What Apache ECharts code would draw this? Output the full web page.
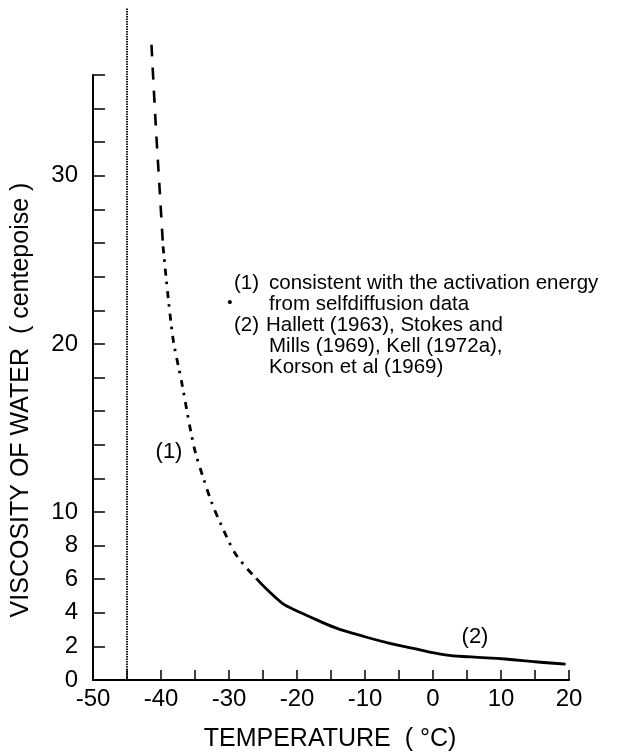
<!DOCTYPE html>
<html>
<head>
<meta charset="utf-8">
<script src="https://cdn.jsdelivr.net/npm/echarts@6/dist/echarts.min.js"></script>
<style>
html,body{margin:0;padding:0;background:#fff;}
#chart{width:624px;height:755px;}
</style>
</head>
<body>
<div id="chart"></div>
<script>
// Reference line (supercooling limit)
var limitT = [-45, -45];
var limitV = [0, 40];
// Segment (1): extrapolated, dashed part
var dashT = [-41.4, -40.8, -40.2, -39.7];
var dashV = [37.8, 33.2, 29.2, 25.8];
// Segment (1): dash-dot part
var dashDotT = [-39.7, -38.3, -37.0, -35.1, -33.6, -32.4, -31.0, -29.2, -27.5, -26.0];
var dashDotV = [25.8, 20.5, 17.8, 13.8, 11.8, 10.4, 9.1, 7.6, 6.7, 6.05];
// Segment (2): measured data, solid
var solidT = [-26.0, -24.6, -22.2, -20.4, -18.7, -14.3, -9.9, -6.5, -3.1, 1.8, 5.6, 10.6, 15.4, 19.5];
var solidV = [6.05, 5.46, 4.58, 4.18, 3.87, 3.10, 2.56, 2.20, 1.90, 1.49, 1.37, 1.25, 1.07, 0.95];

var xLabels = [-50, -40, -30, -20, -10, 0, 10, 20];
var yLabels = [0, 2, 4, 6, 8, 10, 20, 30];

var noteMarks = ['(1)', '', '(2)', '', ''];
var noteTexts = [
  'consistent with the activation energy',
  'from selfdiffusion data',
  'Hallett (1963), Stokes and',
  'Mills (1969), Kell (1972a),',
  'Korson et al (1969)'
];

function zip(a, b) { return a.map(function (v, i) { return [v, b[i]]; }); }

var FONT = '"Liberation Sans", Arial, Helvetica, sans-serif';
var chart = echarts.init(document.getElementById('chart'));

var graphics = [
  {
    type: 'text', x: 21, y: 400, rotation: Math.PI / 2,
    style: { text: 'VISCOSITY OF WATER  ( centepoise )', fill: '#000', font: '25px ' + FONT,
             textAlign: 'center', textVerticalAlign: 'middle' }
  },
  {
    type: 'text', x: 330, y: 739,
    style: { text: 'TEMPERATURE  ( °C)', fill: '#000', font: '25px ' + FONT,
             textAlign: 'center', textVerticalAlign: 'middle' }
  },
  {
    type: 'text', x: 169, y: 452,
    style: { text: '(1)', fill: '#000', font: '22px ' + FONT, textAlign: 'center', textVerticalAlign: 'middle' }
  },
  {
    type: 'text', x: 475, y: 637,
    style: { text: '(2)', fill: '#000', font: '22px ' + FONT, textAlign: 'center', textVerticalAlign: 'middle' }
  },
  {
    type: 'text', x: 230, y: 303,
    style: { text: '•', fill: '#000', font: '15px ' + FONT, textAlign: 'center', textVerticalAlign: 'middle' }
  }
];
noteTexts.forEach(function (t, i) {
  var yy = 283 + i * 21;
  if (noteMarks[i]) {
    graphics.push({
      type: 'text', x: 234, y: yy,
      style: { text: noteMarks[i], fill: '#000', font: '20.5px ' + FONT, textAlign: 'left', textVerticalAlign: 'middle' }
    });
  }
  graphics.push({
    type: 'text', x: i === 2 ? 266 : 269, y: yy,
    style: { text: t, fill: '#000', font: '20.5px ' + FONT, textAlign: 'left', textVerticalAlign: 'middle' }
  });
});

chart.setOption({
  animation: false,
  backgroundColor: '#fff',
  grid: { left: 93, right: 55, top: 75, bottom: 75, containLabel: false },
  xAxis: {
    type: 'value', min: -50, max: 20, interval: 5,
    axisLine: { show: true, onZero: false, lineStyle: { color: '#000', width: 2 } },
    axisTick: { show: true, inside: true, length: 10, lineStyle: { color: '#000', width: 1.5 } },
    splitLine: { show: false },
    axisLabel: {
      color: '#000', fontFamily: FONT, fontSize: 24, margin: 7,
      formatter: function (v) { return xLabels.indexOf(v) >= 0 ? String(v) : ''; }
    }
  },
  yAxis: {
    type: 'value', min: 0, max: 36, interval: 2,
    axisLine: { show: true, onZero: false, lineStyle: { color: '#000', width: 2 } },
    axisTick: { show: true, inside: true, length: 12, lineStyle: { color: '#000', width: 1.5 } },
    splitLine: { show: false },
    axisLabel: {
      color: '#000', fontFamily: FONT, fontSize: 24, margin: 15,
      formatter: function (v) { return yLabels.indexOf(v) >= 0 ? String(v) : ''; }
    }
  },
  series: [
    {
      type: 'line', data: zip(limitT, limitV), clip: false, symbol: 'none', silent: true,
      lineStyle: { color: '#000', width: 1.8, type: [1.4, 1.1] }
    },
    {
      type: 'line', data: zip(dashT, dashV), clip: false, symbol: 'none', smooth: 0.3,
      lineStyle: { color: '#000', width: 2.6, type: [12, 11] }
    },
    {
      type: 'line', data: zip(dashDotT, dashDotV), clip: false, symbol: 'none', smooth: 0.3,
      lineStyle: { color: '#000', width: 2.8, type: [7, 6, 2.5, 7] }
    },
    {
      type: 'line', data: zip(solidT, solidV), clip: false, symbol: 'none', smooth: 0.4,
      lineStyle: { color: '#000', width: 2.8 }
    }
  ],
  graphic: graphics
});
</script>
</body>
</html>
